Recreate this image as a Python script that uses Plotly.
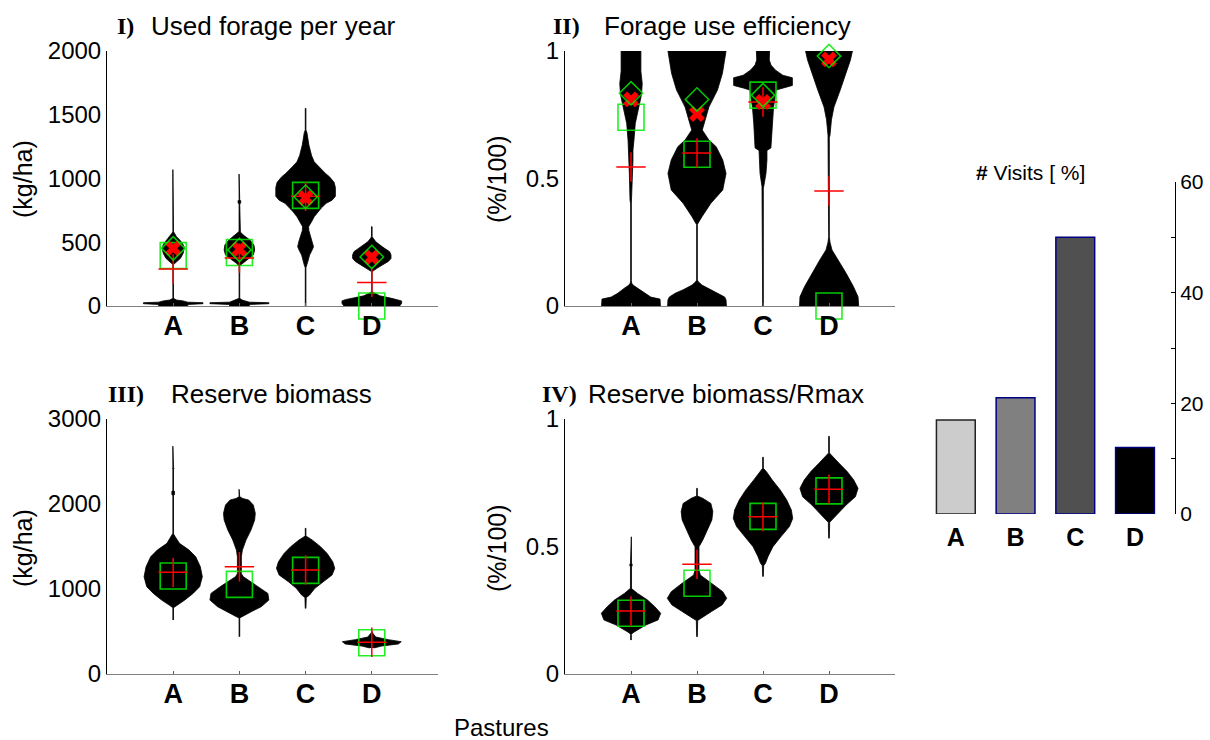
import numpy as np
import plotly.graph_objects as go

PASTURES = ["A", "B", "C", "D"]
POS = [1, 2, 3, 4]

# ---- I) Used forage per year (kg/ha): violin outlines as (level, half-width) ----
forage_A_lv = [-20, 12, 18, 26, 30, 40, 47, 60, 325, 335, 348, 374, 413, 460, 491, 517, 543, 570, 582, 1070]
forage_A_w = [0.22, 0.22, 0.45, 0.45, 0.22, 0.15, 0.05, 0.005, 0.005, 0.03, 0.06, 0.11, 0.15, 0.17, 0.14, 0.10, 0.05, 0.02, 0.005, 0.005]
forage_B_lv = [-20, 12, 18, 26, 30, 40, 47, 60, 310, 320, 335, 361, 400, 439, 478, 517, 556, 580, 586, 800, 808, 826, 834, 1035]
forage_B_w = [0.15, 0.15, 0.445, 0.445, 0.15, 0.10, 0.04, 0.005, 0.005, 0.015, 0.045, 0.11, 0.21, 0.23, 0.22, 0.16, 0.06, 0.015, 0.005, 0.005, 0.02, 0.02, 0.005, 0.005]
forage_C_lv = [0, 300, 321, 360, 400, 430, 465, 510, 557, 590, 622, 661, 700, 740, 770, 805, 830, 860, 930, 970, 1014, 1040, 1092, 1131, 1180, 1262, 1360, 1380, 1550]
forage_C_w = [0.005, 0.005, 0.02, 0.04, 0.06, 0.09, 0.12, 0.10, 0.07, 0.05, 0.045, 0.09, 0.13, 0.19, 0.24, 0.31, 0.40, 0.45, 0.45, 0.43, 0.36, 0.30, 0.20, 0.13, 0.09, 0.05, 0.02, 0.005, 0.005]
forage_D_lv = [-20, 0, 20, 40, 50, 60, 80, 95, 104, 112, 270, 282, 300, 321, 350, 373, 400, 426, 460, 504, 530, 543, 622]
forage_D_w = [0.30, 0.42, 0.45, 0.45, 0.40, 0.30, 0.12, 0.06, 0.03, 0.005, 0.005, 0.04, 0.09, 0.15, 0.25, 0.29, 0.29, 0.27, 0.17, 0.06, 0.02, 0.005, 0.005]
forage_median = [395, 420, 868, 0]
forage_mean = [290, 377, 860, 185]
forage_xmark = [452, 446, 848, 382]
forage_diamond = [452, 440, 857, 385]

# ---- II) Forage use efficiency (%/100) ----
eff_A_lv = [-0.02, 0.0, 0.027, 0.035, 0.05, 0.07, 0.082, 0.09, 0.10, 0.40, 0.416, 0.52, 0.573, 0.612, 0.651, 0.716, 0.78, 0.83, 0.873, 0.92, 1.0]
eff_A_w = [0.45, 0.45, 0.44, 0.30, 0.20, 0.10, 0.03, 0.01, 0.005, 0.005, 0.015, 0.025, 0.03, 0.03, 0.045, 0.065, 0.115, 0.16, 0.17, 0.15, 0.15]
eff_B_lv = [-0.02, 0.0, 0.024, 0.035, 0.05, 0.065, 0.082, 0.095, 0.102, 0.32, 0.325, 0.35, 0.403, 0.455, 0.52, 0.573, 0.625, 0.651, 0.69, 0.717, 0.78, 0.847, 0.912, 1.0]
eff_B_w = [0.45, 0.45, 0.44, 0.42, 0.33, 0.20, 0.075, 0.02, 0.005, 0.005, 0.02, 0.075, 0.21, 0.39, 0.44, 0.39, 0.29, 0.18, 0.08, 0.11, 0.18, 0.31, 0.385, 0.44]
eff_C_lv = [0.0, 0.46, 0.468, 0.52, 0.573, 0.61, 0.62, 0.651, 0.716, 0.78, 0.847, 0.855, 0.865, 0.895, 0.905, 0.925, 0.945, 0.965, 1.0]
eff_C_w = [0.005, 0.005, 0.015, 0.045, 0.06, 0.06, 0.12, 0.125, 0.14, 0.16, 0.20, 0.30, 0.445, 0.445, 0.30, 0.19, 0.12, 0.095, 0.10]
eff_D_lv = [-0.02, 0.0, 0.036, 0.076, 0.128, 0.18, 0.22, 0.25, 0.272, 0.66, 0.67, 0.73, 0.78, 0.847, 0.912, 0.965, 1.0]
eff_D_w = [0.45, 0.45, 0.44, 0.37, 0.26, 0.14, 0.045, 0.015, 0.005, 0.005, 0.015, 0.037, 0.075, 0.17, 0.26, 0.325, 0.355]
eff_median = [0.74, 0.595, 0.827, 0.0]
eff_mean = [0.545, 0.60, 0.80, 0.451]
eff_xmark = [0.81, 0.753, 0.80, 0.967]
eff_diamond = [0.834, 0.81, 0.827, 0.98]

# ---- III) Reserve biomass (kg/ha) ----
res_A_lv = [635, 780, 811, 870, 948, 1027, 1144, 1262, 1380, 1458, 1537, 1615, 1640, 1655, 2100, 2110, 2150, 2160, 2410, 2420, 2430, 2680]
res_A_w = [0.005, 0.005, 0.06, 0.175, 0.30, 0.40, 0.44, 0.41, 0.34, 0.24, 0.095, 0.03, 0.01, 0.005, 0.005, 0.02, 0.02, 0.005, 0.005, 0.012, 0.005, 0.005]
res_B_lv = [439, 660, 674, 733, 792, 870, 948, 1027, 1144, 1180, 1220, 1380, 1458, 1576, 1694, 1811, 1890, 1988, 2047, 2065, 2086, 2173]
res_B_w = [0.005, 0.005, 0.045, 0.18, 0.33, 0.445, 0.43, 0.29, 0.06, 0.03, 0.03, 0.03, 0.045, 0.10, 0.175, 0.23, 0.24, 0.21, 0.14, 0.05, 0.005, 0.005]
res_C_lv = [772, 900, 929, 1008, 1086, 1165, 1243, 1321, 1419, 1498, 1576, 1610, 1623, 1714]
res_C_w = [0.005, 0.01, 0.06, 0.14, 0.26, 0.40, 0.44, 0.41, 0.325, 0.225, 0.10, 0.03, 0.005, 0.005]
res_D_lv = [306, 329, 353, 380, 404, 435, 474, 500]
res_D_w = [0.03, 0.15, 0.40, 0.445, 0.25, 0.06, 0.02, 0.005]
res_median = [1153, 1055, 1219, 368]
res_mean = [1196, 1262, 1223, 373]

# ---- IV) Reserve biomass / Rmax (%/100) ----
rel_A_lv = [0.133, 0.155, 0.162, 0.173, 0.192, 0.212, 0.238, 0.264, 0.29, 0.316, 0.33, 0.336, 0.42, 0.427, 0.435, 0.538]
rel_A_w = [0.005, 0.005, 0.03, 0.10, 0.225, 0.41, 0.45, 0.36, 0.25, 0.10, 0.03, 0.008, 0.008, 0.02, 0.008, 0.005]
rel_B_lv = [0.146, 0.21, 0.218, 0.245, 0.271, 0.297, 0.323, 0.356, 0.388, 0.408, 0.499, 0.525, 0.565, 0.604, 0.637, 0.669, 0.689, 0.698, 0.728]
rel_B_w = [0.005, 0.01, 0.06, 0.22, 0.38, 0.45, 0.39, 0.225, 0.05, 0.03, 0.03, 0.087, 0.16, 0.225, 0.24, 0.21, 0.087, 0.005, 0.005]
rel_C_lv = [0.382, 0.425, 0.434, 0.46, 0.499, 0.538, 0.578, 0.61, 0.643, 0.682, 0.722, 0.761, 0.794, 0.807, 0.85]
rel_C_w = [0.005, 0.01, 0.037, 0.075, 0.15, 0.27, 0.40, 0.45, 0.43, 0.36, 0.26, 0.14, 0.05, 0.005, 0.005]
rel_D_lv = [0.532, 0.595, 0.604, 0.63, 0.663, 0.695, 0.728, 0.761, 0.794, 0.827, 0.854, 0.867, 0.932]
rel_D_w = [0.005, 0.01, 0.045, 0.14, 0.26, 0.40, 0.44, 0.375, 0.275, 0.15, 0.05, 0.005, 0.005]
rel_median = [0.238, 0.356, 0.618, 0.718]
rel_mean = [0.247, 0.43, 0.617, 0.725]

# ---- Visits per pasture (%) ----
visits = [17, 21, 50, 12]
bar_fill = ["#cccccc", "#808080", "#505050", "#000000"]
bar_edge = ["#222222", "#000080", "#000080", "#000080"]

SANS = "Liberation Sans, Arial, sans-serif"
SERIF = "Liberation Serif, Times New Roman, serif"
GREEN = "rgba(0,235,0,0.85)"

fig = go.Figure()


def add_violin(cx, levels, widths, xa, ya):
    lv = np.asarray(levels, dtype=float)
    w = np.asarray(widths, dtype=float)
    xs = np.concatenate([cx - w, (cx + w)[::-1]])
    ys = np.concatenate([lv, lv[::-1]])
    fig.add_trace(go.Scatter(x=xs, y=ys, xaxis=xa, yaxis=ya, mode="lines",
                             fill="toself", fillcolor="black",
                             line=dict(color="black", width=0.8),
                             hoverinfo="skip", showlegend=False))


def add_stats(xa, ya, median, mean, xmark=None, diamond=None):
    fig.add_trace(go.Scatter(x=POS, y=median, xaxis=xa, yaxis=ya, mode="markers",
                             cliponaxis=False, showlegend=False,
                             marker=dict(symbol="square-open", size=26,
                                         line=dict(color=GREEN, width=1.6), color=GREEN)))
    fig.add_trace(go.Scatter(x=POS, y=mean, xaxis=xa, yaxis=ya, mode="markers",
                             cliponaxis=False, showlegend=False,
                             marker=dict(symbol="cross-thin", size=21,
                                         line=dict(color="red", width=1.5), color="red")))
    if xmark is not None:
        fig.add_trace(go.Scatter(x=POS, y=xmark, xaxis=xa, yaxis=ya, mode="markers",
                                 cliponaxis=False, showlegend=False,
                                 marker=dict(symbol="x", size=14, color="red",
                                             line=dict(width=0))))
    if diamond is not None:
        fig.add_trace(go.Scatter(x=POS, y=diamond, xaxis=xa, yaxis=ya, mode="markers",
                                 cliponaxis=False, showlegend=False,
                                 marker=dict(symbol="diamond-open", size=18,
                                             line=dict(color=GREEN, width=1.5), color=GREEN)))


panels = [
    ("x", "y", [(forage_A_lv, forage_A_w), (forage_B_lv, forage_B_w), (forage_C_lv, forage_C_w), (forage_D_lv, forage_D_w)],
     forage_median, forage_mean, forage_xmark, forage_diamond),
    ("x2", "y2", [(eff_A_lv, eff_A_w), (eff_B_lv, eff_B_w), (eff_C_lv, eff_C_w), (eff_D_lv, eff_D_w)],
     eff_median, eff_mean, eff_xmark, eff_diamond),
    ("x3", "y3", [(res_A_lv, res_A_w), (res_B_lv, res_B_w), (res_C_lv, res_C_w), (res_D_lv, res_D_w)],
     res_median, res_mean, None, None),
    ("x4", "y4", [(rel_A_lv, rel_A_w), (rel_B_lv, rel_B_w), (rel_C_lv, rel_C_w), (rel_D_lv, rel_D_w)],
     rel_median, rel_mean, None, None),
]

for xa, ya, profiles, med, mn, xm, dm in panels:
    for cx, (lv, w) in zip(POS, profiles):
        add_violin(cx, lv, w, xa, ya)
    add_stats(xa, ya, med, mn, xm, dm)

# Visits bars
fig.add_trace(go.Bar(x=POS, y=visits, xaxis="x5", yaxis="y5", width=0.65,
                     marker=dict(color=bar_fill, line=dict(color=bar_edge, width=1.5)),
                     showlegend=False, hoverinfo="skip"))

W, H = 1210, 740


def xd(a, b):
    return [a / W, b / W]


def yd(top, bottom):
    return [1 - bottom / H, 1 - top / H]


cat_ticks = dict(tickmode="array", tickvals=POS,
                 ticktext=["<b>%s</b>" % p for p in PASTURES],
                 tickfont=dict(family=SANS, size=27, color="black"),
                 ticklabelstandoff=-4,
                 showline=True, linecolor="#808080", linewidth=1,
                 ticks="inside", ticklen=3, tickcolor="#606060",
                 showgrid=False, zeroline=False, range=[0, 5], fixedrange=True)


def yax(rng, vals, texts, anchor):
    return dict(range=rng, tickmode="array", tickvals=vals, ticktext=texts,
                tickfont=dict(family=SANS, size=24, color="black"),
                showline=True, linecolor="black", linewidth=1, ticks="",
                showgrid=False, zeroline=False, anchor=anchor, fixedrange=True)


fig.update_layout(
    width=W, height=H, margin=dict(l=0, r=0, t=0, b=0, autoexpand=False),
    paper_bgcolor="white", plot_bgcolor="white", showlegend=False,
    font=dict(family=SANS, color="black"),
    xaxis=dict(cat_ticks, domain=xd(107, 438), anchor="y"),
    xaxis2=dict(cat_ticks, domain=xd(565, 895), anchor="y2"),
    xaxis3=dict(cat_ticks, domain=xd(107, 438), anchor="y3"),
    xaxis4=dict(cat_ticks, domain=xd(565, 895), anchor="y4"),
    yaxis=dict(yax([0, 2000], [0, 500, 1000, 1500, 2000], ["0", "500", "1000", "1500", "2000"], "x"), domain=yd(51, 306)),
    yaxis2=dict(yax([0, 1], [0, 0.5, 1], ["0", "0.5", "1"], "x2"), domain=yd(51, 306)),
    yaxis3=dict(yax([0, 3000], [0, 1000, 2000, 3000], ["0", "1000", "2000", "3000"], "x3"), domain=yd(419, 674)),
    yaxis4=dict(yax([0, 1], [0, 0.5, 1], ["0", "0.5", "1"], "x4"), domain=yd(419, 674)),
    xaxis5=dict(domain=xd(920, 1175), range=[0.4, 4.67], anchor="y5",
                tickmode="array", tickvals=POS, ticktext=["<b>%s</b>" % p for p in PASTURES],
                tickfont=dict(family=SANS, size=25, color="black"),
                ticklabelstandoff=6,
                showline=False, ticks="", showgrid=False, zeroline=False, fixedrange=True),
    yaxis5=dict(domain=yd(182, 514), range=[0, 60], anchor="x5", side="right",
                tickmode="array", tickvals=[0, 10, 20, 30, 40, 50, 60],
                ticktext=["0", "", "20", "", "40", "", "60"],
                tickfont=dict(family=SANS, size=21, color="black"),
                showline=True, linecolor="black", linewidth=1,
                ticks="inside", ticklen=4, tickcolor="black",
                showgrid=False, zeroline=False, fixedrange=True),
    bargap=0.35,
)

ann = []


def txt(text, x, y, size, family=SANS, xanchor="left", angle=0):
    ann.append(dict(text=text, x=x / W, y=1 - y / H, xref="paper", yref="paper",
                    xanchor=xanchor, yanchor="middle", showarrow=False, textangle=angle,
                    font=dict(family=family, size=size, color="black")))


# panel headings
txt("<b>I)</b>", 115, 26, 24, SERIF)
txt("Used forage per year", 149, 26, 26)
txt("<b>II)</b>", 551, 26, 24, SERIF)
txt("Forage use efficiency", 602, 26, 26)
txt("<b>III)</b>", 106, 394, 24, SERIF)
txt("Reserve biomass", 169, 394, 26)
txt("<b>IV)</b>", 540, 394, 24, SERIF)
txt("Reserve biomass/Rmax", 586, 394, 26)

# axis titles
txt("(kg/ha)", 23, 179, 25, xanchor="center", angle=-90)
txt("(%/100)", 497, 179, 25, xanchor="center", angle=-90)
txt("(kg/ha)", 23, 548, 25, xanchor="center", angle=-90)
txt("(%/100)", 497, 548, 25, xanchor="center", angle=-90)
txt("Pastures", 501, 727, 24, xanchor="center")
txt("<b>#</b> Visits [ %]", 1030, 172, 21, xanchor="center")

fig.update_layout(annotations=ann)

fig.write_html("out.html")
